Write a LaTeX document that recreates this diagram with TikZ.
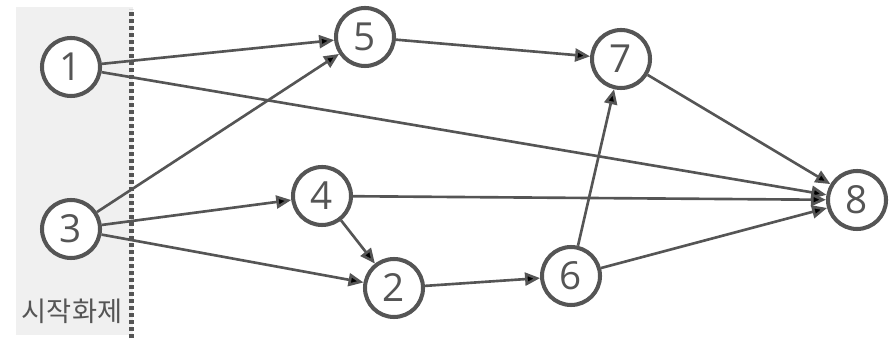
\documentclass[tikz,border=0pt]{standalone}
\usepackage{fontspec}
\setmainfont{Open Sans}
\newfontfamily\krfont{Noto Sans CJK KR}
\usetikzlibrary{arrows.meta, positioning}
\definecolor{linegray}{HTML}{555555}
\definecolor{bggray}{HTML}{F0F0F0}
\tikzset{
    main node/.style={circle, draw=linegray, line width=2.3pt, fill=white, text=linegray, minimum size=1.16cm, inner sep=0pt, font=\fontsize{22}{24}\selectfont},
    flow/.style={draw=linegray, line width=1.5pt},
    startbox/.style={fill=bggray, draw=none},
    divider/.style={draw=linegray, line width=2.3pt, dash pattern=on 0.8mm off 0.6mm}
}
\begin{document}
\begin{tikzpicture}[>={Triangle[length=3mm, width=2.6mm]}]
% Precedence graph; nodes 1 and 3 form the starting set.
  \useasboundingbox (0,0) rectangle (17.82,6.9);
  \fill[startbox] (0.32,0.2) rectangle (2.66,6.76);
  \draw[divider] (2.63,0.14) -- (2.63,6.72);
  \node[text=linegray, font=\krfont\fontsize{15.5}{18}\selectfont] (start) at (1.44,0.68) {시작화제};
  \node[main node] (1) at (1.42, 5.56) {1};
  \node[main node] (3) at (1.42, 2.32) {3};
  \node[main node] (5) at (7.30, 6.16) {5};
  \node[main node] (7) at (12.42, 5.72) {7};
  \node[main node] (4) at (6.44, 2.98) {4};
  \node[main node] (2) at (7.88, 1.14) {2};
  \node[main node] (6) at (11.42, 1.38) {6};
  \node[main node] (8) at (17.14, 2.90) {8};
  \draw[->, flow] (1) edge (5);
  \draw[->, flow] (1) edge (8);
  \draw[->, flow] (3) edge (5);
  \draw[->, flow] (3) edge (4);
  \draw[->, flow] (3) edge (2);
  \draw[->, flow] (5) edge (7);
  \draw[->, flow] (4) edge (8);
  \draw[->, flow] (4) edge (2);
  \draw[->, flow] (2) edge (6);
  \draw[->, flow] (6) edge (7);
  \draw[->, flow] (6) edge (8);
  \draw[->, flow] (7) edge (8);
\end{tikzpicture}
\end{document}
